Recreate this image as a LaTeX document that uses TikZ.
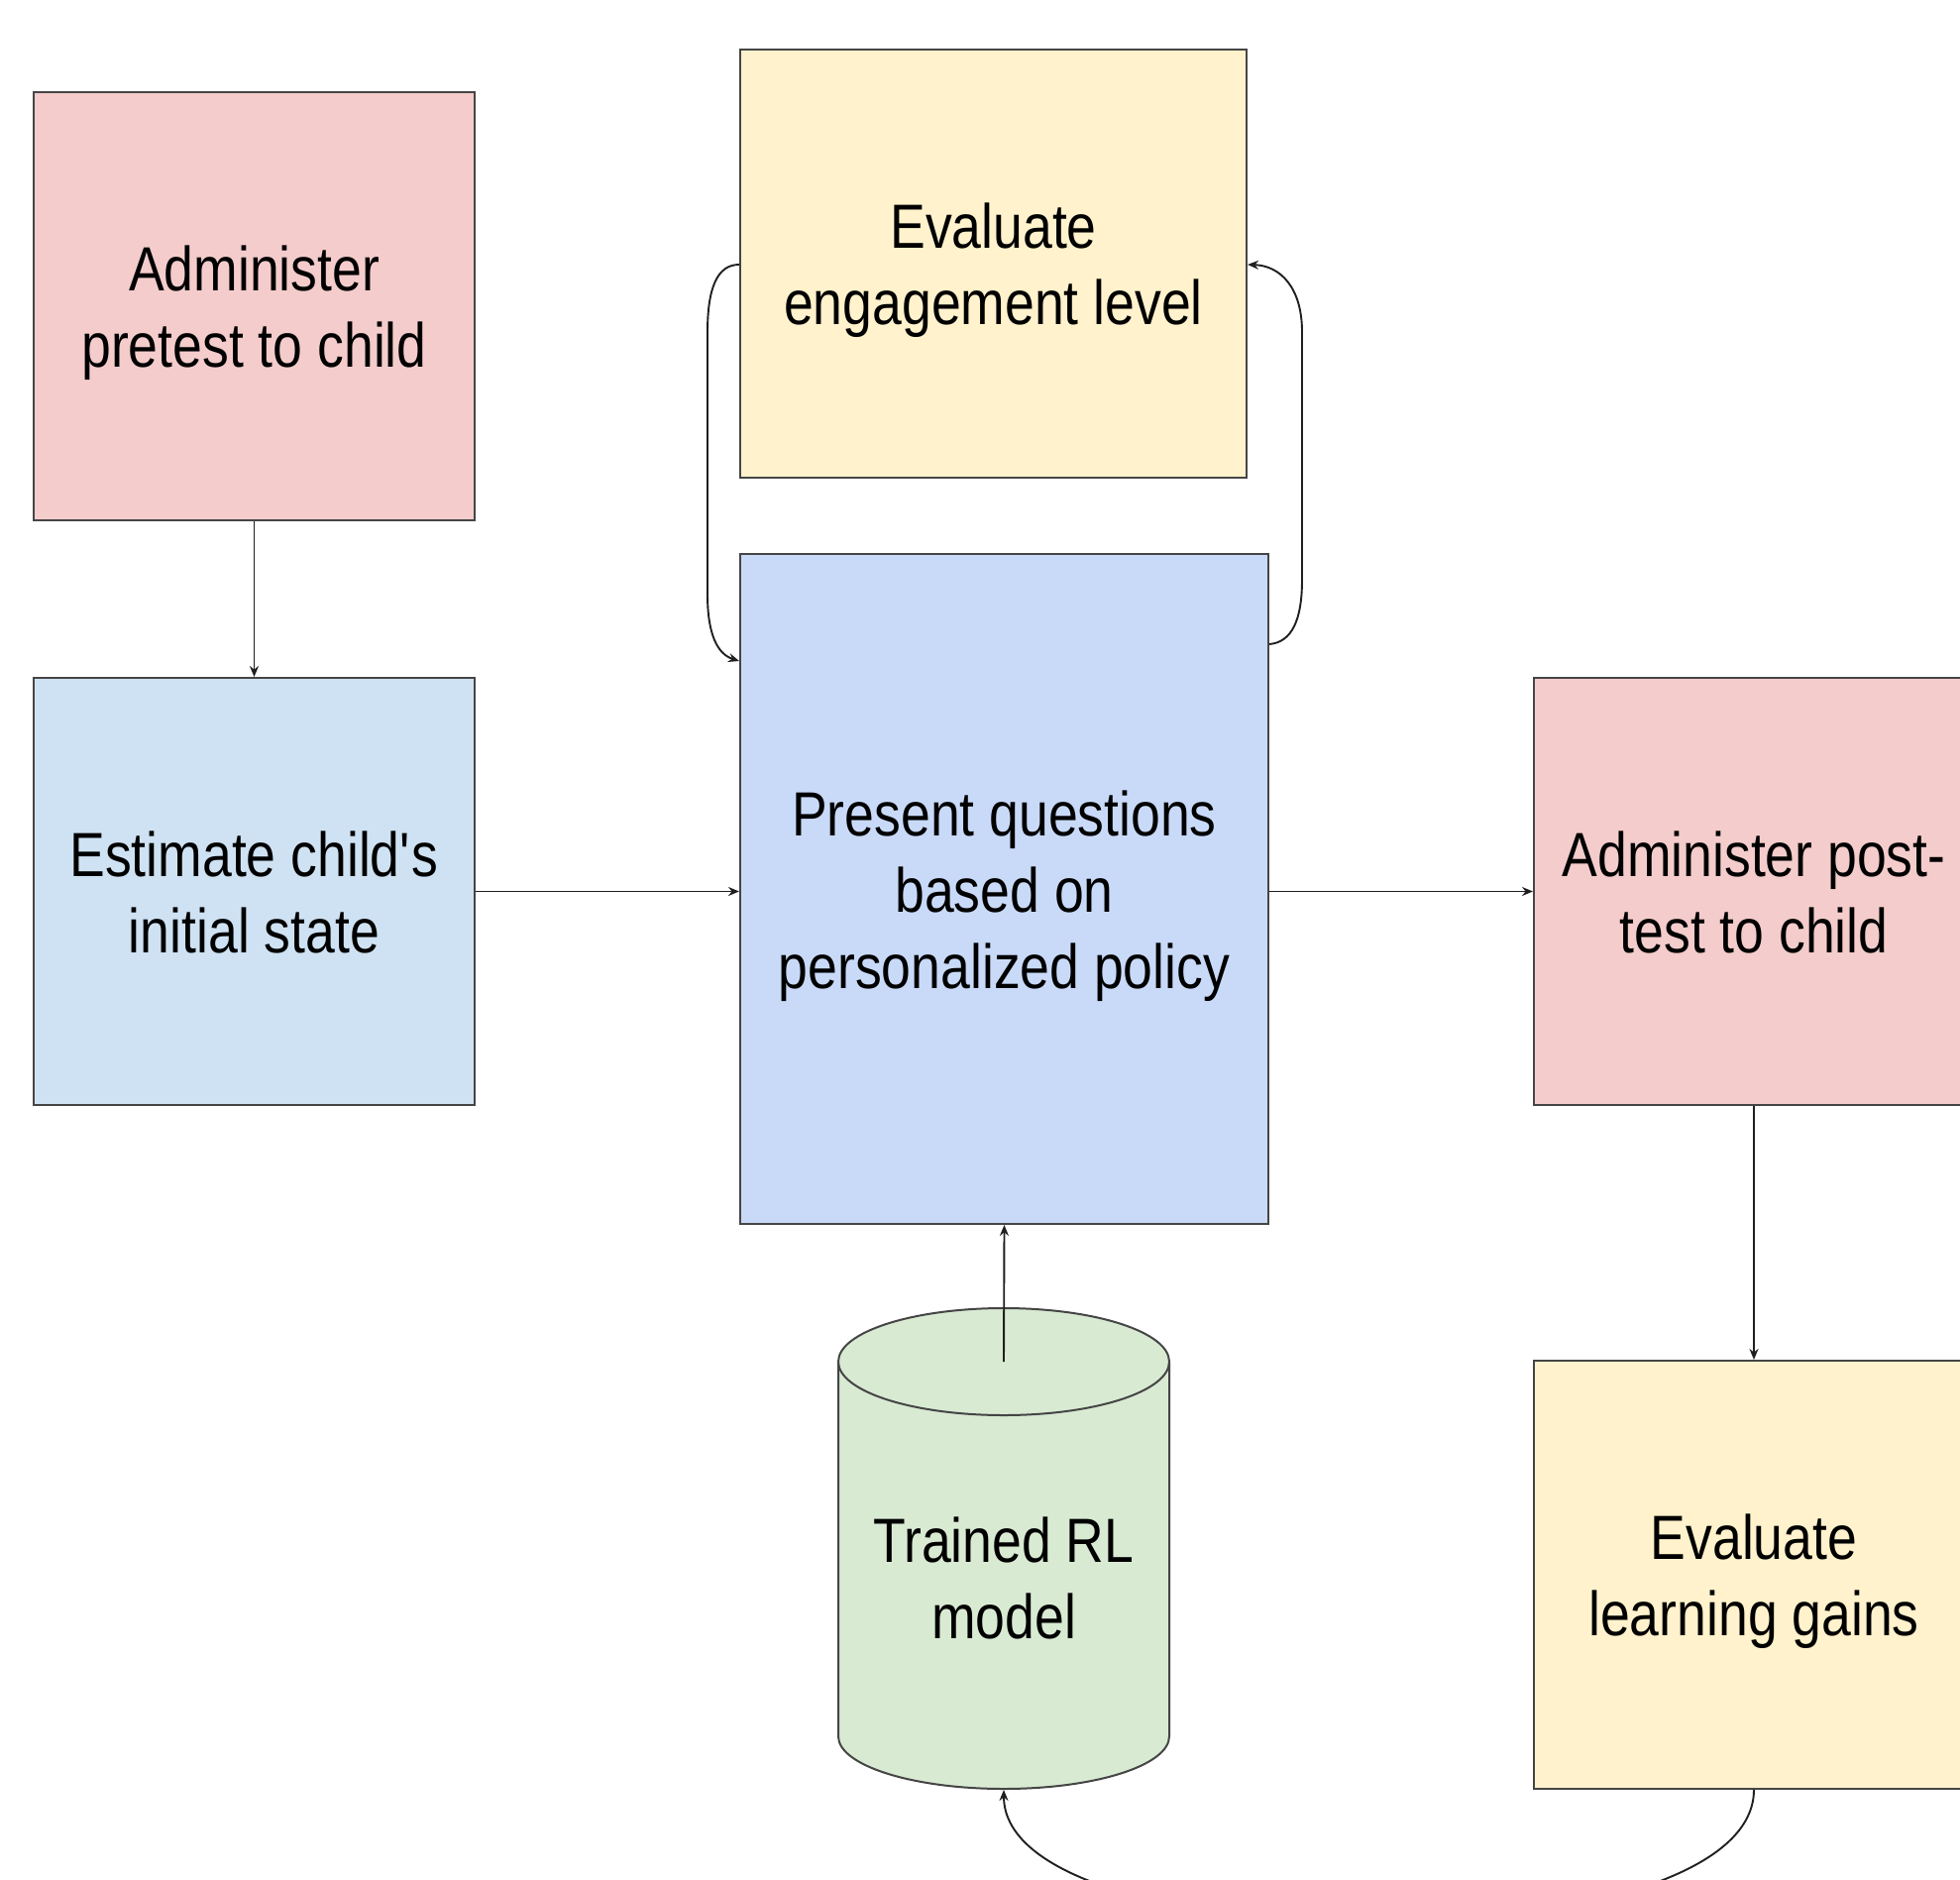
\documentclass[tikz,border=0pt]{standalone}
\usepackage{fontspec}
\setmainfont[FakeStretch=0.85]{Liberation Sans}
\usetikzlibrary{arrows.meta}
\definecolor{cpink}{HTML}{F4CCCC}
\definecolor{clblue}{HTML}{CFE2F3}
\definecolor{cyellow}{HTML}{FFF2CC}
\definecolor{cblue}{HTML}{C9DAF8}
\definecolor{cgreen}{HTML}{D9EAD3}
\definecolor{cborder}{HTML}{454545}
\newcommand{\boxtext}[1]{\raisebox{-8pt}[\height][\depth]{\begin{tabular}{@{}c@{}}#1\end{tabular}}}
\tikzset{
  boxnode/.style={draw=cborder, line width=2pt, rectangle, inner sep=0pt,
    align=center, font=\fontsize{63}{77}\selectfont, text=black},
  conn/.style={draw=black!88, line width=1.9pt, -{Stealth[length=11pt,width=9pt]}},
}
\begin{document}
\begin{tikzpicture}[x=1pt,y=-1pt]
\useasboundingbox (0,0) rectangle (1978,1897);
\clip (0,0) rectangle (1978,1897);
\fill[white] (0,0) rectangle (1978,1897);

% boxes: centre, size
\node[boxnode, fill=cpink, minimum width=445pt, minimum height=432pt] (pre) at (256.5,309) {\boxtext{Administer\\pretest to child}};
\node[boxnode, fill=clblue, minimum width=445pt, minimum height=431pt] (est) at (256.5,899.5) {\boxtext{Estimate child\textquotesingle s\\initial state}};
\node[boxnode, fill=cyellow, minimum width=511pt, minimum height=432pt] (eng) at (1002.5,266) {\boxtext{Evaluate\\engagement level}};
\node[boxnode, fill=cblue, minimum width=533pt, minimum height=676pt] (pres) at (1013.5,897) {\boxtext{Present questions\\based on\\personalized policy}};
\node[boxnode, fill=cpink, minimum width=444pt, minimum height=431pt] (post) at (1770,899.5) {\boxtext{Administer post-\\test to child}};
\node[boxnode, fill=cyellow, minimum width=444pt, minimum height=432pt] (gain) at (1770,1589) {\boxtext{Evaluate\\learning gains}};

% cylinder
\fill[cgreen] (846,1374) rectangle (1180,1752);
\fill[cgreen] (846,1752) .. controls (846,1781.3) and (920.8,1805) .. (1013,1805)
  .. controls (1105.2,1805) and (1180,1781.3) .. (1180,1752) -- cycle;
\draw[cborder, line width=2pt] (846,1374) -- (846,1752)
  .. controls (846,1781.3) and (920.8,1805) .. (1013,1805)
  .. controls (1105.2,1805) and (1180,1781.3) .. (1180,1752) -- (1180,1374);
\draw[cborder, line width=2pt, fill=cgreen] (1013,1374) ellipse [x radius=167, y radius=54];
\node[align=center, font=\fontsize{63}{77}\selectfont, text=black] (rl) at (1013,1592) {Trained RL\\model};
\coordinate (cyltop) at (1013,1374);
\coordinate (cylbot) at (1013,1806);

% connectors
\draw[conn] (pre.south) -- (est.north);
\draw[conn] (est.east) -- (pres.west |- est.east);
\draw[conn] (pres.east |- post.west) -- (post.west);
\draw[conn] (post.south) -- (gain.north);
\draw[conn] (cyltop) -- (pres.south);

\coordinate (engL) at (eng.west |- 0,267);
\coordinate (presL) at (pres.west |- 0,667);
\coordinate (presR) at (pres.east |- 0,650);
\coordinate (engR) at (eng.east |- 0,267);
\draw[conn] (engL) .. controls (724,267) and (714,290) .. (714,335) -- (714,600)
  .. controls (714,640) and (724,660) .. (presL);
\draw[conn] (presR) .. controls (1304,648) and (1314,625) .. (1314,585) -- (1314,335)
  .. controls (1314,290) and (1292,268) .. (engR);
\draw[conn] (gain.south) .. controls (1770,1984) and (1013,1984) .. (cylbot);
\end{tikzpicture}
\end{document}
